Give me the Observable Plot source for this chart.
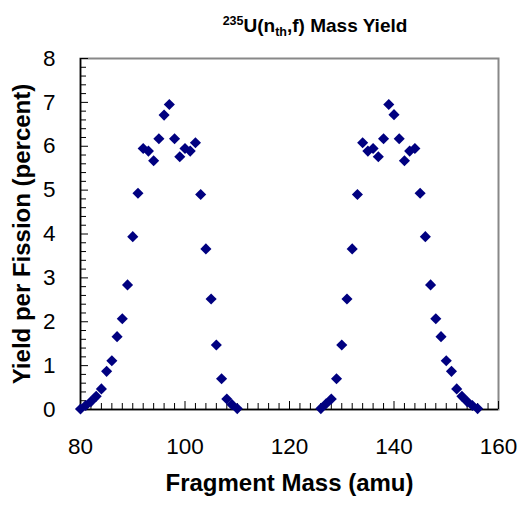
<!DOCTYPE html>
<html>
<head>
<meta charset="utf-8">
<script src="https://cdn.jsdelivr.net/npm/d3@7"></script>
<script src="https://cdn.jsdelivr.net/npm/@observablehq/plot@0.6"></script>
<style>
  html, body { margin: 0; padding: 0; background: #fff; }
  #chart { position: relative; width: 521px; height: 506px; font-family: "Liberation Sans", Arial, sans-serif; }
  #title { position: absolute; top: 15px; left: 315px; transform: translateX(-50%); white-space: nowrap;
           font-weight: bold; font-size: 19px; line-height: 22px; color: #000; }
  #title sup { font-size: 12.5px; vertical-align: 0; position: relative; top: -7px; }
  #title sub { font-size: 12.5px; vertical-align: 0; position: relative; top: 4px; }
  #plot { position: absolute; top: 44px; left: 0; }
</style>
</head>
<body>
<div id="chart">
  <div id="title"><sup>235</sup>U(n<sub>th</sub>,f) Mass Yield</div>
  <div id="plot"></div>
</div>
<script>
// Light fragment peak: mass number and yield per fission (%)
const lightMass = [80, 81, 82, 83, 84, 85, 86, 87, 88, 89, 90, 91, 92, 93, 94, 95,
                   96, 97, 98, 99, 100, 101, 102, 103, 104, 105, 106, 107, 108, 109, 110];
const lightYield = [0.01, 0.09, 0.18, 0.30, 0.47, 0.87, 1.11, 1.66, 2.07, 2.84, 3.94, 4.93, 5.95, 5.89, 5.67, 6.17,
                    6.71, 6.95, 6.17, 5.76, 5.95, 5.89, 6.08, 4.90, 3.66, 2.52, 1.47, 0.70, 0.24, 0.11, 0.02];

// Heavy fragment peak
const heavyMass = [126, 127, 128, 129, 130, 131, 132, 133, 134, 135, 136, 137, 138, 139, 140, 141,
                   142, 143, 144, 145, 146, 147, 148, 149, 150, 151, 152, 153, 154, 155, 156];
const heavyYield = [0.02, 0.13, 0.24, 0.70, 1.47, 2.52, 3.66, 4.90, 6.08, 5.89, 5.95, 5.76, 6.17, 6.95, 6.72, 6.17,
                    5.67, 5.89, 5.95, 4.93, 3.94, 2.84, 2.07, 1.66, 1.11, 0.87, 0.47, 0.30, 0.18, 0.09, 0.02];

// Axis tick values
const xTickLabels = [80, 100, 120, 140, 160];
const yTickLabels = [0, 1, 2, 3, 4, 5, 6, 7, 8];
const xMinorTicks = d3.range(80, 161, 2);
const yMinorTicks = d3.range(0, 8.001, 0.2).map(v => +v.toFixed(1));

const points = [
  ...lightMass.map((m, i) => ({mass: m, yield: lightYield[i]})),
  ...heavyMass.map((m, i) => ({mass: m, yield: heavyYield[i]}))
];

const W = 521, H = 462;
const mL = 80, mR = 23, mT = 14, mB = 97;
const plotW = W - mL - mR, plotH = H - mT - mB;

const chart = Plot.plot({
  width: W,
  height: H,
  marginLeft: mL,
  marginRight: mR,
  marginTop: mT,
  marginBottom: mB,
  style: {fontFamily: "'Liberation Sans', Arial, sans-serif", color: "#000", background: "#fff"},
  x: {domain: [80, 160]},
  y: {domain: [0, 8]},
  marks: [
    Plot.frame({stroke: "#888", strokeWidth: 2}),
    // inward tick marks
    Plot.tickX(xMinorTicks.filter(v => v % 20 !== 0), {x: d => d, stroke: "#000", insetTop: plotH - 6}),
    Plot.tickX(xTickLabels, {x: d => d, stroke: "#000", insetTop: plotH - 8}),
    Plot.tickY(yMinorTicks.filter(v => !Number.isInteger(v)), {y: d => d, stroke: "#000", insetRight: plotW - 6}),
    Plot.tickY(yTickLabels, {y: d => d, stroke: "#000", insetRight: plotW - 8}),
    Plot.ruleX([80], {stroke: "#000", strokeWidth: 1.5}),
    Plot.ruleY([0], {stroke: "#000", strokeWidth: 1.5}),
    Plot.axisX({ticks: xTickLabels, tickSize: 0, tickPadding: 29, fontSize: 22.5, label: null}),
    Plot.axisY({ticks: yTickLabels, tickSize: 0, tickPadding: 25, fontSize: 22.5, label: null}),
    Plot.text(["Fragment Mass (amu)"], {frameAnchor: "bottom", dy: 81, fontSize: 24, fontWeight: "bold", fill: "#000"}),
    Plot.text(["Yield per Fission (percent)"], {frameAnchor: "left", textAnchor: "middle", dx: -58, rotate: -90, fontSize: 24, fontWeight: "bold", fill: "#000"}),
    Plot.dot(points, {x: "mass", y: "yield", symbol: "diamond2", r: 5, fill: "#000080", stroke: "none"})
  ]
});

document.getElementById("plot").appendChild(chart);
</script>
</body>
</html>
